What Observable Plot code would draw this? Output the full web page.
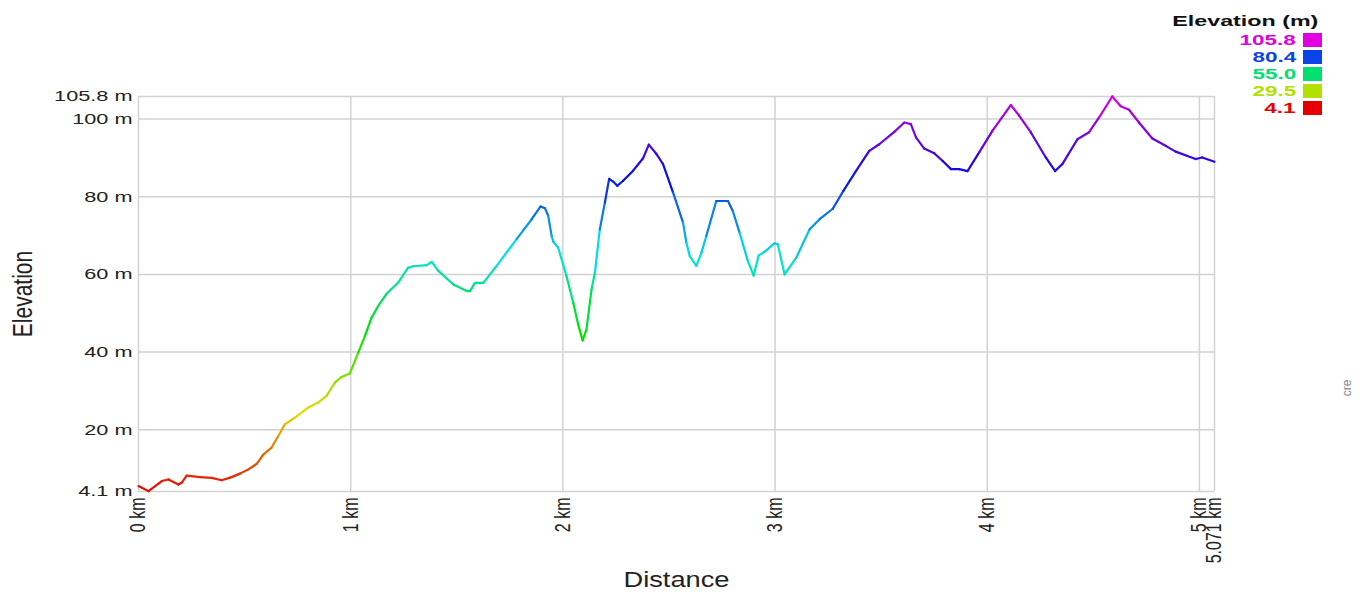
<!DOCTYPE html>
<html>
<head>
<meta charset="utf-8">
<script src="https://cdn.jsdelivr.net/npm/d3@7"></script>
<script src="https://cdn.jsdelivr.net/npm/@observablehq/plot@0.6"></script>
<style>
  html, body { margin: 0; padding: 0; background: #fff; }
  #wrap { position: relative; width: 1364px; height: 592px; font-family: "Liberation Sans", Arial, sans-serif; }
  #legend { position: absolute; right: 42px; top: 12px; text-align: right; font-weight: bold; font-size: 15.5px; line-height: 17px; }
  #legend .title { color: #111; margin-bottom: 2px; margin-right: 4px; }
  #legend .title .st { transform: scaleX(1.5); }
  #legend .st { display: inline-block; transform: scaleX(1.45); transform-origin: right center; }
  #legend .row { display: flex; justify-content: flex-end; align-items: center; }
  #legend .sw { display: inline-block; width: 19px; height: 14px; margin-left: 7px; }
</style>
</head>
<body>
<div id="wrap"><div id="legend"></div></div>
<script>
// Distance along track (km)
const distance = [0, 0.047, 0.11, 0.141, 0.188, 0.204, 0.227, 0.29, 0.345, 0.392, 0.439, 0.478, 0.518, 0.557, 0.588, 0.627, 0.659, 0.69, 0.737, 0.80, 0.847, 0.886, 0.925, 0.957, 0.996,
  1.035, 1.067, 1.098, 1.129, 1.169, 1.224, 1.27, 1.294, 1.358, 1.382, 1.413, 1.484, 1.547, 1.562, 1.586, 1.625, 1.688, 1.782, 1.853, 1.895, 1.916, 1.931, 1.947, 1.955, 1.978,
  2.017, 2.049, 2.072, 2.093, 2.111, 2.135, 2.151, 2.174, 2.198, 2.218, 2.237, 2.256, 2.284, 2.331, 2.378, 2.405, 2.441, 2.472, 2.519, 2.566, 2.582, 2.598, 2.629, 2.653, 2.676,
  2.723, 2.778, 2.801, 2.833, 2.872, 2.899, 2.923, 2.950, 2.997, 3.013, 3.045, 3.100, 3.163, 3.210, 3.272, 3.322, 3.381, 3.444, 3.491, 3.562, 3.609, 3.640, 3.664, 3.703, 3.750,
  3.790, 3.829, 3.868, 3.907, 3.962, 4.025, 4.111, 4.150, 4.205, 4.276, 4.320, 4.354, 4.425, 4.480, 4.527, 4.589, 4.629, 4.668, 4.715, 4.778, 4.841, 4.888, 4.982, 5.013, 5.071];
// Elevation (m)
const elevation = [5.5, 4.2, 6.8, 7.2, 5.9, 6.4, 8.2, 7.8, 7.6, 7.0, 7.8, 8.7, 9.8, 11.2, 13.6, 15.4, 18.4, 21.4, 23.1, 25.7, 27.0, 28.7, 32.1, 33.6, 34.5,
  39.8, 44.1, 48.8, 51.8, 55.0, 57.9, 61.7, 62.1, 62.4, 63.2, 60.9, 57.4, 55.7, 55.7, 57.8, 57.8, 62.2, 69.1, 74.2, 77.5, 77.0, 75.1, 69.9, 68.4, 66.9,
  59.6, 52.7, 47.1, 43.0, 45.8, 56.1, 60.4, 71.6, 78.5, 84.6, 83.9, 82.8, 84.1, 86.7, 89.9, 93.4, 91.0, 88.4, 81.1, 73.4, 68.2, 64.7, 62.2, 65.6, 69.9,
  78.9, 78.9, 76.3, 70.7, 63.4, 59.7, 64.9, 65.8, 68.0, 67.7, 60.0, 64.3, 71.6, 74.2, 76.9, 81.5, 86.6, 91.8, 93.5, 96.7, 99.1, 98.7, 95.3, 92.4, 91.2,
  89.2, 87.1, 87.1, 86.6, 91.4, 97.0, 103.6, 100.9, 96.6, 90.1, 86.6, 88.4, 94.8, 96.6, 100.4, 105.8, 103.3, 102.4, 99.1, 95.0, 93.1, 91.6, 89.7, 90.1, 89.0];

const xTicks = [0, 1, 2, 3, 4, 5, 5.071];
const xTickLabels = ["0 km", "1 km", "2 km", "3 km", "4 km", "5 km", "5.071 km"];
const yTicks = [4.1, 20, 40, 60, 80, 100, 105.8];
const yTickLabels = ["4.1 m", "20 m", "40 m", "60 m", "80 m", "100 m", "105.8 m"];

const legendStops = [4.1, 29.5, 55.0, 80.4, 105.8];
const legendColors = ["#e60000", "#b2e000", "#00e070", "#0a44e6", "#e000e0"];

const segments = distance.slice(1).map((d, i) => ({
  x1: distance[i], y1: elevation[i], x2: d, y2: elevation[i + 1],
  e: (elevation[i] + elevation[i + 1]) / 2
}));

const font = "'Liberation Sans', Arial, sans-serif";
const grid = "#d2d2d2";

const chart = Plot.plot({
  width: 1364,
  height: 592,
  marginLeft: 138,
  marginRight: 150,
  marginTop: 96,
  marginBottom: 101,
  style: { fontFamily: font, background: "transparent", color: "#222" },
  x: { domain: [0, 5.071], axis: null },
  y: { domain: [4.1, 105.8], axis: null },
  color: { type: "linear", domain: legendStops, range: legendColors, interpolate: "hsl" },
  marks: [
    Plot.gridX(xTicks, { stroke: grid, strokeOpacity: 1, strokeWidth: 1.5 }),
    Plot.gridY(yTicks, { stroke: grid, strokeOpacity: 1, strokeWidth: 1.5 }),
    Plot.axisX(xTicks, {
      tickSize: 0, tickPadding: 6, tickRotate: -90, fontSize: 16, textAnchor: "end",
      tickFormat: d => xTickLabels[xTicks.indexOf(d)], label: null, fill: "#222"
    }),
    Plot.axisY(yTicks, {
      tickSize: 0, tickPadding: 6, fontSize: 15.5,
      tickFormat: d => yTickLabels[yTicks.indexOf(d)], label: null, fill: "#222"
    }),
    Plot.link(segments, {
      x1: "x1", y1: "y1", x2: "x2", y2: "y2",
      stroke: "e", strokeWidth: 2.2, strokeLinecap: "round"
    }),
    Plot.text(["Distance"], { frameAnchor: "bottom", lineAnchor: "middle", textAnchor: "middle", dy: 88, fontSize: 22, fill: "#222" }),
    Plot.text(["Elevation"], { frameAnchor: "left", lineAnchor: "middle", textAnchor: "middle", dx: -115, rotate: -90, fontSize: 21, fill: "#222" }),
    Plot.text(["cre"], { frameAnchor: "right", lineAnchor: "middle", textAnchor: "middle", dx: 133, dy: 94, rotate: -90, fontSize: 12, fill: "#888" })
  ]
});

document.getElementById("wrap").prepend(chart);

// the reference's lettering is stretched horizontally
const svg = d3.select(chart);
svg.selectAll('g[aria-label="y-axis tick label"] text').each(function () {
  const w = this.getComputedTextLength();
  this.setAttribute("textLength", w * 1.4);
  this.setAttribute("lengthAdjust", "spacingAndGlyphs");
});
svg.selectAll('g[aria-label="x-axis tick label"] text').each(function () {
  const tr = this.getAttribute("transform");
  if (tr) this.setAttribute("transform", tr + " scale(1,1.35)");
});
svg.selectAll("text").each(function () {
  if (this.textContent === "Distance") {
    this.setAttribute("textLength", 106);
    this.setAttribute("lengthAdjust", "spacingAndGlyphs");
  }
  if (this.textContent === "Elevation") {
    const tr = this.getAttribute("transform");
    if (tr) this.setAttribute("transform", tr + " scale(1,1.3)");
  }
});

// legend
const legend = document.getElementById("legend");
const t = document.createElement("div");
t.className = "title";
t.innerHTML = '<span class="st">Elevation (m)</span>';
legend.appendChild(t);
for (let i = legendStops.length - 1; i >= 0; i--) {
  const row = document.createElement("div");
  row.className = "row";
  const lab = document.createElement("span");
  lab.className = "st";
  lab.textContent = legendStops[i].toFixed(1);
  lab.style.color = legendColors[i];
  const sw = document.createElement("span");
  sw.className = "sw";
  sw.style.background = legendColors[i];
  row.appendChild(lab);
  row.appendChild(sw);
  legend.appendChild(row);
}
</script>
</body>
</html>
